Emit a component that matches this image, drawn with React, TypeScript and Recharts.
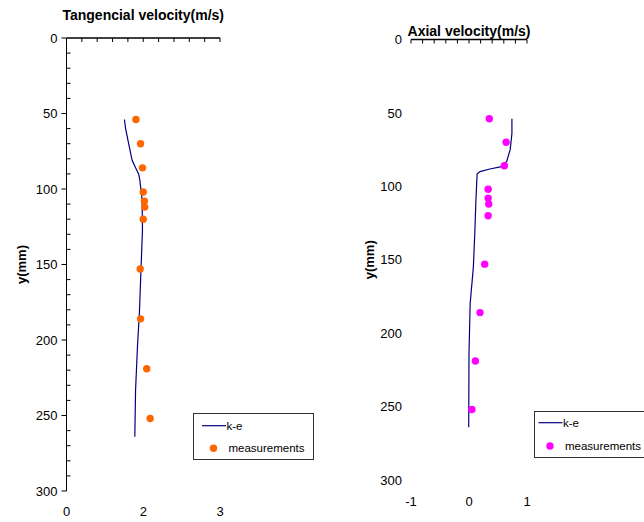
import { ScatterChart, Scatter, XAxis, YAxis } from "recharts";

// measurement heights (mm), shared by both panels
const yMeas = [54, 70, 86, 102, 108, 112, 120, 153, 186, 219, 252];
const tangMeas = [1.81, 1.93, 1.98, 2.0, 2.03, 2.04, 2.0, 1.92, 1.93, 2.09, 2.18];
const axialMeas = [0.35, 0.64, 0.61, 0.33, 0.33, 0.34, 0.33, 0.27, 0.19, 0.11, 0.05];

// k-e model profiles
const yTangKe = [54, 60, 70, 81, 86, 90, 94, 107, 127, 154, 182, 204, 233, 264];
const tangKe = [1.51, 1.54, 1.62, 1.71, 1.8, 1.88, 1.91, 1.97, 1.98, 1.94, 1.9, 1.85, 1.8, 1.78];
const yAxialKe = [54, 64, 75, 83, 86.6, 88.2, 90, 91.6, 100, 109, 132, 155, 180, 214, 264];
const axialKe = [0.74, 0.74, 0.71, 0.65, 0.56, 0.36, 0.19, 0.14, 0.13, 0.12, 0.1, 0.075, 0.02, 0.0, -0.005];

// axes
const yTicks = [0, 10, 20, 30, 40, 50, 60, 70, 80, 90, 100, 110, 120, 130, 140, 150, 160, 170, 180, 190, 200, 210, 220, 230, 240, 250, 260, 270, 280, 290, 300];
const yLabelTicks = [0, 50, 100, 150, 200, 250, 300];
const tangTicks = [0, 0.4, 0.8, 1.2, 1.6, 2, 2.4, 2.8, 3.2, 3.6, 4];
const axialTicks = [-1, -0.8, -0.6, -0.4, -0.2, 0, 0.2, 0.4, 0.6, 0.8, 1];
const tangLabelAt = [0, 2, 4];
const tangLabels = ["0", "2", "3"];
const axialLabelAt = [-1, 0, 1];
const axialLabels = ["-1", "0", "1"];

const NAVY = "#00007f";
const ORANGE = "#ff6600";
const MAGENTA = "#ff00ff";
const FONT = "'Liberation Sans', Arial, sans-serif";

const toPts = (ys: number[], xs: number[]) => ys.map((y, i) => ({ x: xs[i], y }));

const TopTick = (p: any) => (
  <line x1={p.x} x2={p.x} y1={p.y} y2={p.y + 4} stroke="#000" strokeWidth={1} />
);

const LeftYTick = (p: any) => {
  const v = p.payload.value;
  const major = v % 50 === 0;
  return (
    <g>
      {major ? (
        <line x1={p.x - 5} x2={p.x} y1={p.y} y2={p.y} stroke="#000" />
      ) : (
        <line x1={p.x} x2={p.x + 4} y1={p.y} y2={p.y} stroke="#000" />
      )}
      {major && (
        <text x={p.x - 9} y={p.y} dy={4.6} textAnchor="end" fontSize={13} fill="#000" fontFamily={FONT}>
          {v}
        </text>
      )}
    </g>
  );
};

const RightYTick = (p: any) => (
  <text x={p.x - 9} y={p.y} dy={4.6} textAnchor="end" fontSize={13} fill="#000" fontFamily={FONT}>
    {p.payload.value}
  </text>
);

const bottomTick = (at: number[], labels: string[], dy: number) => (p: any) => (
  <text x={p.x} y={p.y} dy={dy} textAnchor="middle" fontSize={13} fill="#000" fontFamily={FONT}>
    {labels[at.indexOf(p.payload.value)]}
  </text>
);

const titleLabel = (text: string, dy: number) => (p: any) => {
  const vb = p.viewBox;
  return (
    <text x={vb.x + vb.width / 2} y={vb.y + vb.height - dy} textAnchor="middle" fontSize={14} fontWeight="bold" fill="#000" fontFamily={FONT}>
      {text}
    </text>
  );
};

const yLabel = (cx: number) => (p: any) => {
  const vb = p.viewBox;
  const cy = vb.y + vb.height / 2;
  return (
    <text x={cx} y={cy} transform={`rotate(-90 ${cx} ${cy})`} dy={4.5} textAnchor="middle" fontSize={13} fontWeight="bold" fill="#000" fontFamily={FONT}>
      y(mm)
    </text>
  );
};

const Empty = () => <g />;
const dot = (fill: string) => (p: any) => <circle cx={p.cx} cy={p.cy} r={3.7} fill={fill} />;

const LegendBox = (props: { left: number; top: number; color: string; lx: number; ly: number; dx: number; dy: number; tx: number }) => (
  <svg
    style={{ position: "absolute", left: props.left, top: props.top, overflow: "visible" }}
    width={121}
    height={47}
  >
    <rect x={0.5} y={0.5} width={120} height={46} fill="#fff" stroke="#333" />
    <line x1={props.lx} x2={props.lx + 24} y1={props.ly} y2={props.ly} stroke={NAVY} strokeWidth={1.2} />
    <text x={props.lx + 24.5} y={props.ly} dy={4} fontSize={11.5} fill="#000" fontFamily={FONT}>k-e</text>
    <circle cx={props.dx} cy={props.dy} r={3.7} fill={props.color} />
    <text x={props.tx} y={props.dy} dy={4} fontSize={11.5} fill="#000" fontFamily={FONT}>measurements</text>
  </svg>
);

export default function App() {
  return (
    <div style={{ position: "absolute", left: 0, top: 0, width: 644, height: 522, overflow: "hidden", background: "#fff", fontFamily: FONT }}>
      {/* tangential */}
      <div style={{ position: "absolute", left: 0, top: 0 }}>
        <ScatterChart width={330} height={522} margin={{ top: 37, right: 110, bottom: 30, left: 0 }}>
          <XAxis
            xAxisId="top"
            orientation="top"
            type="number"
            dataKey="x"
            domain={[0, 4]}
            ticks={tangTicks}
            interval={0}
            height={1}
            tickSize={0}
            tickMargin={0}
            tick={TopTick}
            axisLine={{ stroke: "#000", strokeWidth: 1.3 }}
            label={{ content: titleLabel("Tangencial velocity(m/s)", 18) }}
          />
          <XAxis
            xAxisId="bot"
            orientation="bottom"
            type="number"
            dataKey="x"
            domain={[0, 4]}
            ticks={tangLabelAt}
            interval={0}
            height={1}
            tickSize={0}
            tickMargin={0}
            axisLine={false}
            tickLine={false}
            tick={bottomTick(tangLabelAt, tangLabels, 24.5)}
          />
          <YAxis
            type="number"
            dataKey="y"
            domain={[0, 300]}
            reversed
            ticks={yTicks}
            interval={0}
            width={66.5}
            tickSize={0}
            tickMargin={0}
            tick={LeftYTick}
            axisLine={{ stroke: "#000" }}
            label={{ content: yLabel(21) }}
          />
          <Scatter xAxisId="top" data={toPts(yTangKe, tangKe)} line={{ stroke: NAVY, strokeWidth: 1.2 }} shape={Empty} isAnimationActive={false} />
          <Scatter xAxisId="bot" data={toPts(yMeas, tangMeas)} shape={dot(ORANGE)} isAnimationActive={false} />
        </ScatterChart>
      </div>

      {/* axial */}
      <div style={{ position: "absolute", left: 320, top: 0 }}>
        <ScatterChart width={324} height={522} margin={{ top: 38.5, right: 117, bottom: 41, left: 0 }}>
          <XAxis
            xAxisId="top"
            orientation="top"
            type="number"
            dataKey="x"
            domain={[-1, 1]}
            ticks={axialTicks}
            interval={0}
            height={1}
            tickSize={0}
            tickMargin={0}
            tick={TopTick}
            axisLine={{ stroke: "#000", strokeWidth: 1.3 }}
            label={{ content: titleLabel("Axial velocity(m/s)", 4) }}
          />
          <XAxis
            xAxisId="bot"
            orientation="bottom"
            type="number"
            dataKey="x"
            domain={[-1, 1]}
            ticks={axialLabelAt}
            interval={0}
            height={1}
            tickSize={0}
            tickMargin={0}
            axisLine={false}
            tickLine={false}
            tick={bottomTick(axialLabelAt, axialLabels, 26)}
          />
          <YAxis
            type="number"
            dataKey="y"
            domain={[0, 300]}
            reversed
            ticks={yLabelTicks}
            interval={0}
            width={91}
            tickSize={0}
            tickMargin={0}
            tick={RightYTick}
            axisLine={false}
            tickLine={false}
            label={{ content: yLabel(49.5) }}
          />
          <Scatter xAxisId="top" data={toPts(yAxialKe, axialKe)} line={{ stroke: NAVY, strokeWidth: 1.2 }} shape={Empty} isAnimationActive={false} />
          <Scatter xAxisId="bot" data={toPts(yMeas, axialMeas)} shape={dot(MAGENTA)} isAnimationActive={false} />
        </ScatterChart>
      </div>

      <LegendBox left={192.5} top={413} color={ORANGE} lx={9} ly={12.7} dx={20.5} dy={35.3} tx={35.5} />
      <LegendBox left={534} top={411} color={MAGENTA} lx={4.5} ly={11.7} dx={16} dy={35} tx={31} />
    </div>
  );
}
